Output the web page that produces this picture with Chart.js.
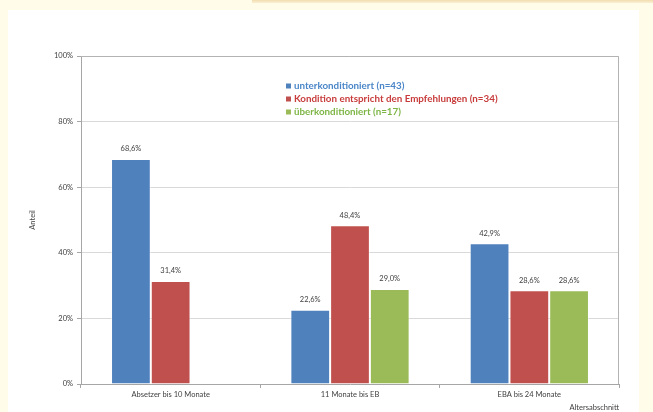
<!DOCTYPE html>
<html>
<head>
<meta charset="utf-8">
<script src="https://cdn.jsdelivr.net/npm/chart.js@4.4.1/dist/chart.umd.min.js"></script>
<style>
  html, body { margin: 0; padding: 0; background: #fffdea; }
  #strip { position: absolute; left: 252px; top: 0; width: 401px; height: 3px;
           background: linear-gradient(#f1dcae, #fbf0d4); }
  #panel { position: absolute; left: 8px; top: 10px; width: 631px; height: 402px; background: #ffffff; }
  #wrap { position: absolute; left: 0; top: 0; width: 653px; height: 412px; }
</style>
</head>
<body>
<div id="strip"></div>
<div id="panel"></div>
<div id="wrap"><canvas id="barChart"></canvas></div>
<script>
var categories = ["Absetzer bis 10 Monate", "11 Monate bis EB", "EBA bis 24 Monate"];
var seriesNames = ["unterkonditioniert (n=43)", "Kondition entspricht den Empfehlungen (n=34)", "überkonditioniert (n=17)"];
var unterValues = [68.6, 22.6, 42.9];
var entsprichtValues = [31.4, 48.4, 28.6];
var ueberValues = [null, 29.0, 28.6];
var yTicks = [0, 20, 40, 60, 80, 100];

var barColors = ["#4f81bd", "#c0504d", "#9bbb59"];
var textColors = ["#4a86c8", "#c83c3c", "#7db545"];

function fmt(v) {
  return v.toFixed(1).replace(".", ",") + "%";
}

// value labels above bars + frame + legend inside the plot
var extras = {
  id: "extras",
  afterDatasetsDraw: function (chart) {
    var ctx = chart.ctx;
    var area = chart.chartArea;
    ctx.save();
    ctx.strokeStyle = "#b3b3b3";
    ctx.lineWidth = 1;
    ctx.beginPath();
    ctx.moveTo(area.left, area.top + 0.5);
    ctx.lineTo(area.right - 0.5, area.top + 0.5);
    ctx.lineTo(area.right - 0.5, area.bottom);
    ctx.stroke();

    ctx.font = "7.5px Lato";
    ctx.fillStyle = "#404040";
    ctx.textAlign = "center";
    ctx.textBaseline = "middle";
    chart.data.datasets.forEach(function (ds, i) {
      chart.getDatasetMeta(i).data.forEach(function (bar, j) {
        var v = ds.data[j];
        if (v === null) return;
        ctx.fillText(fmt(v), bar.x, bar.y - 10);
      });
    });

    ctx.font = "bold 9.8px Lato";
    ctx.textAlign = "left";
    seriesNames.forEach(function (name, i) {
      var y = 86 + i * 13;
      ctx.fillStyle = barColors[i];
      ctx.fillRect(286, y - 2.5, 5, 5);
      ctx.fillStyle = textColors[i];
      ctx.fillText(name, 294, y);
    });
    ctx.restore();
  }
};

var ctx = document.getElementById("barChart").getContext("2d");
var barChart = new Chart(ctx, {
  type: "bar",
  data: {
    labels: categories,
    datasets: [
      { label: seriesNames[0], data: unterValues, backgroundColor: barColors[0] },
      { label: seriesNames[1], data: entsprichtValues, backgroundColor: barColors[1] },
      { label: seriesNames[2], data: ueberValues, backgroundColor: barColors[2] }
    ]
  },
  options: {
    responsive: true,
    maintainAspectRatio: false,
    animation: false,
    layout: { padding: { left: 28, right: 34, top: 56, bottom: 0 } },
    datasets: {
      bar: {
        categoryPercentage: 0.665,
        barPercentage: 1,
        borderWidth: 1,
        borderColor: "rgba(255,255,255,0.55)",
        borderSkipped: "bottom"
      }
    },
    plugins: {
      legend: { display: false },
      tooltip: { enabled: false }
    },
    scales: {
      x: {
        afterFit: function (s) { s.height = 28; },
        grid: { drawOnChartArea: false, drawTicks: true, tickLength: 4, color: "#a6a6a6", offset: true },
        border: { color: "#a6a6a6" },
        ticks: { color: "#404040", font: { family: "Lato", size: 7.5 }, padding: 2, maxRotation: 0 },
        title: {
          display: true, text: "Altersabschnitt", align: "end",
          color: "#404040", font: { family: "Lato", size: 7.5 }, padding: { top: 1, bottom: 0 }
        }
      },
      y: {
        min: 0, max: 100,
        afterFit: function (s) { s.width = 53; },
        afterBuildTicks: function (s) { s.ticks = yTicks.map(function (v) { return { value: v }; }); },
        grid: { color: "#d9d9d9", tickColor: "#a6a6a6", tickLength: 4 },
        border: { color: "#a6a6a6" },
        ticks: {
          color: "#404040", font: { family: "Lato", size: 7.5 }, padding: 4,
          callback: function (v) { return v + "%"; }
        },
        title: {
          display: true, text: "Anteil",
          color: "#404040", font: { family: "Lato", size: 7.5 }, padding: 0
        }
      }
    }
  },
  plugins: [extras]
});
</script>
</body>
</html>
